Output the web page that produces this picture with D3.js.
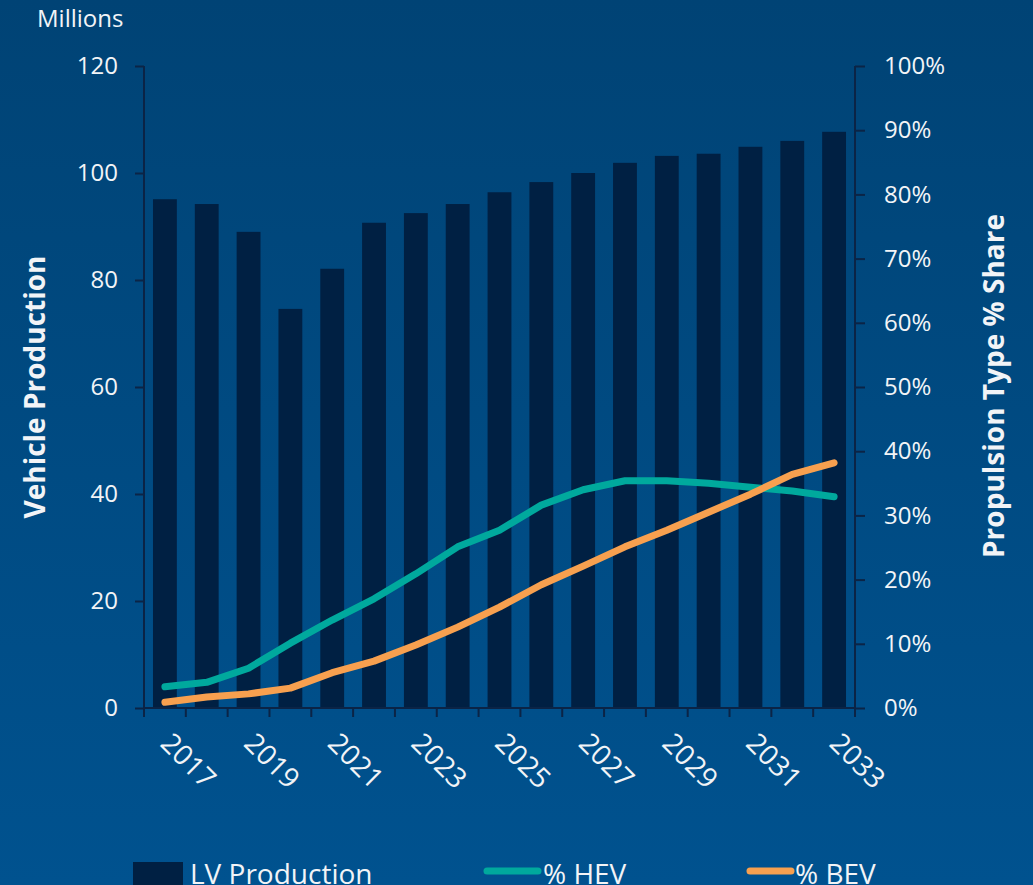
<!DOCTYPE html>
<html>
<head>
<meta charset="utf-8">
<script src="https://cdn.jsdelivr.net/npm/d3@7"></script>
<style>
  html, body { margin: 0; padding: 0; background: #004a82; }
  svg { display: block; font-family: "Open Sans", "Noto Sans", sans-serif; }
</style>
</head>
<body>
<div id="chart"></div>
<script>
// chart data
var years = ["2017","2018","2019","2020","2021","2022","2023","2024","2025","2026","2027","2028","2029","2030","2031","2032","2033"];
var production = [95.1, 94.2, 89.0, 74.6, 82.1, 90.7, 92.5, 94.2, 96.4, 98.3, 100.0, 101.9, 103.2, 103.6, 104.9, 106.0, 107.7];
var hevShare = [3.3, 4.0, 6.2, 10.1, 13.7, 17.0, 20.9, 25.1, 27.7, 31.6, 34.0, 35.4, 35.4, 35.0, 34.4, 33.8, 32.9];
var bevShare = [0.9, 1.7, 2.2, 3.1, 5.5, 7.3, 9.8, 12.6, 15.7, 19.2, 22.1, 25.1, 27.7, 30.5, 33.3, 36.4, 38.2];
var leftTicks = [0, 20, 40, 60, 80, 100, 120];
var rightTicks = [0, 10, 20, 30, 40, 50, 60, 70, 80, 90, 100];
var labelYears = ["2017","2019","2021","2023","2025","2027","2029","2031","2033"];

var width = 1033, height = 885;
var plotLeft = 144, plotRight = 855, plotTop = 66, plotBottom = 708;
var axisColor = "#0b2446", textColor = "#f2f4f7";

var svg = d3.select("#chart").append("svg")
  .attr("width", width)
  .attr("height", height);

var grad = svg.append("defs").append("linearGradient")
  .attr("id", "bg").attr("x1", 0).attr("y1", 0).attr("x2", 0).attr("y2", 1);
grad.append("stop").attr("offset", "0%").attr("stop-color", "#004375");
grad.append("stop").attr("offset", "100%").attr("stop-color", "#00528f");

svg.append("rect").attr("width", width).attr("height", height).attr("fill", "url(#bg)");

var x = d3.scaleBand().domain(years).range([plotLeft, plotRight]).paddingInner(0.43).paddingOuter(0.215);
var xb = d3.scaleBand().domain(years).range([plotLeft, plotRight]);
var y = d3.scaleLinear().domain([0, 120]).range([plotBottom, plotTop]);
var y2 = d3.scaleLinear().domain([0, 100]).range([plotBottom, plotTop]);

// bars
svg.append("g").selectAll("rect").data(production).enter().append("rect")
  .attr("x", function(d, i){ return x(years[i]); })
  .attr("y", function(d){ return y(d); })
  .attr("width", x.bandwidth())
  .attr("height", function(d){ return plotBottom - y(d); })
  .attr("fill", "#002043");

// lines
var line = d3.line()
  .x(function(d, i){ return xb(years[i]) + xb.bandwidth() / 2; })
  .y(function(d){ return y2(d); });

[[hevShare, "#00a99d"], [bevShare, "#f7a04f"]].forEach(function(s) {
  svg.append("path").datum(s[0])
    .attr("d", line)
    .attr("fill", "none")
    .attr("stroke", s[1])
    .attr("stroke-width", 7)
    .attr("stroke-linecap", "round")
    .attr("stroke-linejoin", "round");
});

// left axis
var gl = svg.append("g").attr("transform", "translate(" + plotLeft + ",0)")
  .call(d3.axisLeft(y).tickValues(leftTicks).tickSize(9).tickPadding(17));
// right axis
var gr = svg.append("g").attr("transform", "translate(" + plotRight + ",0)")
  .call(d3.axisRight(y2).tickValues(rightTicks).tickSize(10).tickPadding(19)
    .tickFormat(function(d){ return d + "%"; }));
// x axis: ticks on band boundaries
var gx = svg.append("g").attr("transform", "translate(0," + plotBottom + ")");
gx.append("line").attr("x1", plotLeft).attr("x2", plotRight).attr("y1", 0).attr("y2", 0);
gx.selectAll("line.tk").data(years.concat(["end"])).enter().append("line")
  .attr("class", "tk")
  .attr("x1", function(d, i){ return plotLeft + i * xb.bandwidth(); })
  .attr("x2", function(d, i){ return plotLeft + i * xb.bandwidth(); })
  .attr("y1", 0).attr("y2", 9);

[gl, gr].forEach(function(g) {
  g.select(".domain").attr("stroke", axisColor).attr("stroke-width", 2)
    .attr("d", "M0," + plotTop + "V" + plotBottom);
  g.selectAll(".tick line").attr("stroke", axisColor).attr("stroke-width", 2);
  g.selectAll(".tick text").attr("fill", textColor).style("font-size", "24px")
    .style("font-family", "'Open Sans', 'Noto Sans', sans-serif");
});
gx.selectAll("line").attr("stroke", axisColor).attr("stroke-width", 2);

// year labels, rotated
svg.append("g").selectAll("text").data(labelYears).enter().append("text")
  .attr("transform", function(d){
    return "translate(" + (xb(d) + xb.bandwidth() / 2 - 6) + "," + (plotBottom + 37) + ") rotate(45)";
  })
  .attr("fill", textColor)
  .style("font-size", "28px")
  .text(function(d){ return d; });

svg.append("text").attr("x", 37).attr("y", 27)
  .attr("fill", textColor).style("font-size", "24px").text("Millions");

svg.append("text")
  .attr("transform", "translate(45,387) rotate(-90)")
  .attr("text-anchor", "middle")
  .attr("fill", textColor).style("font-size", "28px").style("font-weight", "bold")
  .text("Vehicle Production");

svg.append("text")
  .attr("transform", "translate(1004,386) rotate(-90)")
  .attr("text-anchor", "middle")
  .attr("fill", textColor).style("font-size", "28px").style("font-weight", "bold")
  .text("Propulsion Type % Share");

// legend
var legend = svg.append("g");
legend.append("rect").attr("x", 133).attr("y", 862).attr("width", 50).attr("height", 24).attr("fill", "#002043");
legend.append("line").attr("x1", 487).attr("x2", 538).attr("y1", 871).attr("y2", 871)
  .attr("stroke", "#00a99d").attr("stroke-width", 7).attr("stroke-linecap", "round");
legend.append("line").attr("x1", 750).attr("x2", 791).attr("y1", 871).attr("y2", 871)
  .attr("stroke", "#f7a04f").attr("stroke-width", 7).attr("stroke-linecap", "round");
var legendText = [["LV Production", 190], ["% HEV", 543], ["% BEV", 795]];
legend.selectAll("text.lg").data(legendText).enter().append("text")
  .attr("class", "lg")
  .attr("x", function(d){ return d[1]; })
  .attr("y", 884)
  .attr("fill", textColor).style("font-size", "28px")
  .text(function(d){ return d[0]; });
</script>
</body>
</html>
